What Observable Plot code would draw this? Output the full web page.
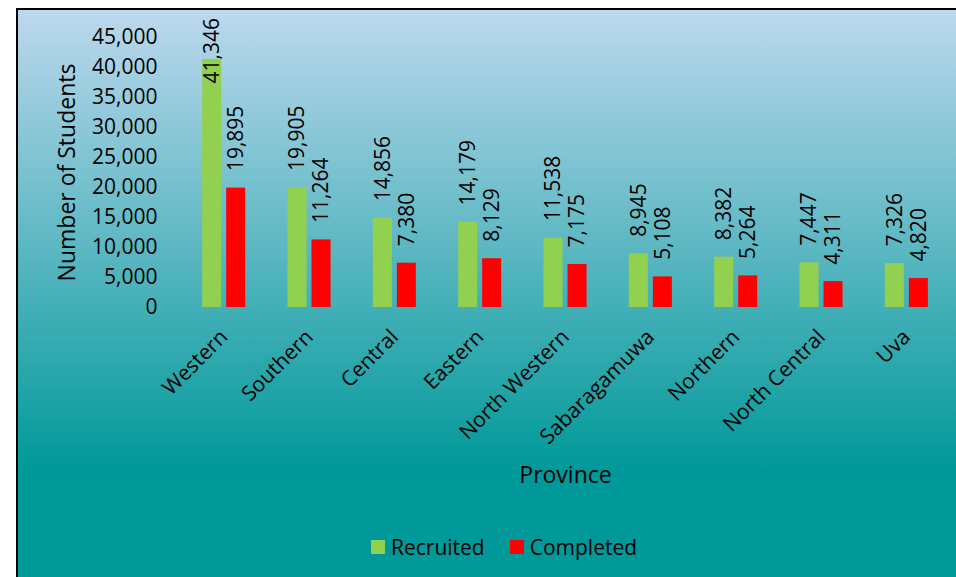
<!DOCTYPE html>
<html>
<head>
<meta charset="utf-8">
<script src="https://cdn.jsdelivr.net/npm/d3@7"></script>
<script src="https://cdn.jsdelivr.net/npm/@observablehq/plot@0.6"></script>
<style>
  html, body { margin:0; padding:0; width:956px; height:577px; overflow:hidden; background:#fff; }
  #frame { position:absolute; left:16px; top:8px; width:960px; height:600px;
    border-left:2.5px solid #000; border-top:2.5px solid #000;
    background:linear-gradient(to bottom, #bdd8ee 0px, #009999 460px, #009999 600px); }
  #chart { position:absolute; left:0; top:0; }
  #legend { position:absolute; left:371px; top:533px; display:flex; align-items:center;
    font-family:"Open Sans", sans-serif; font-size:21px; color:#000; }
  .sw { width:14px; height:14px; display:inline-block; margin-right:6px; }
  .item { display:flex; align-items:center; margin-right:25px; }
</style>
</head>
<body>
<div id="frame"></div>
<div id="chart"></div>
<div id="legend"></div>
<script>
const provinces = ["Western","Southern","Central","Eastern","North Western","Sabaragamuwa","Northern","North Central","Uva"];
const recruited = [41346,19905,14856,14179,11538,8945,8382,7447,7326];
const completed = [19895,11264,7380,8129,7175,5108,5264,4311,4820];
const series = ["Recruited","Completed"];
const colors = ["#92d050","#ff0000"];
const yTicks = [0,5000,10000,15000,20000,25000,30000,35000,40000,45000];

const data = [];
provinces.forEach((p,i) => {
  data.push({province:p, series:"Recruited", value:recruited[i]});
  data.push({province:p, series:"Completed", value:completed[i]});
});
const fmt = d3.format(",");
const labelCap = 34500; // keeps the tallest label inside the chart area, as in the original

const chart = Plot.plot({
  width:956, height:500,
  marginTop:37, marginBottom:193, marginLeft:181, marginRight:7,
  style:{background:"transparent", fontFamily:"'Open Sans', sans-serif", fontSize:"21px", color:"#000"},
  fx:{domain:provinces, paddingInner:0, paddingOuter:0, round:false, label:null},
  x:{domain:series, paddingInner:0.208, paddingOuter:0.881, round:false, axis:null},
  y:{domain:[0,45000]},
  color:{domain:series, range:colors},
  marks:[
    Plot.axisY({ticks:yTicks, tickSize:0, tickPadding:24, tickFormat:fmt, fontSize:21, label:null}),
    Plot.axisY({ticks:[], tickSize:0, fontSize:23,
      label:"Number of Students", labelArrow:"none", labelAnchor:"center", labelOffset:123}),
    Plot.axisFx({anchor:"bottom", tickSize:0, tickRotate:-45, tickPadding:26, fontSize:21, label:null}),
    Plot.axisFx({anchor:"bottom", ticks:[], tickSize:0, fontSize:23,
      label:"Province", labelArrow:"none", labelAnchor:"center", labelOffset:175}),
    Plot.barY(data, {fx:"province", x:"series", y:"value", fill:"series"}),
    Plot.text(data, {fx:"province", x:"series", y:d => Math.min(d.value, labelCap),
      text:d => fmt(d.value), rotate:-90, textAnchor:"start", lineAnchor:"middle",
      dy:-17, fontSize:21, fill:"#000"})
  ]
});
document.getElementById("chart").appendChild(chart);

const legend = document.getElementById("legend");
series.forEach((s,i) => {
  const it = document.createElement("span");
  it.className = "item";
  it.innerHTML = `<span class="sw" style="background:${colors[i]}"></span>${s}`;
  legend.appendChild(it);
});
</script>
</body>
</html>
